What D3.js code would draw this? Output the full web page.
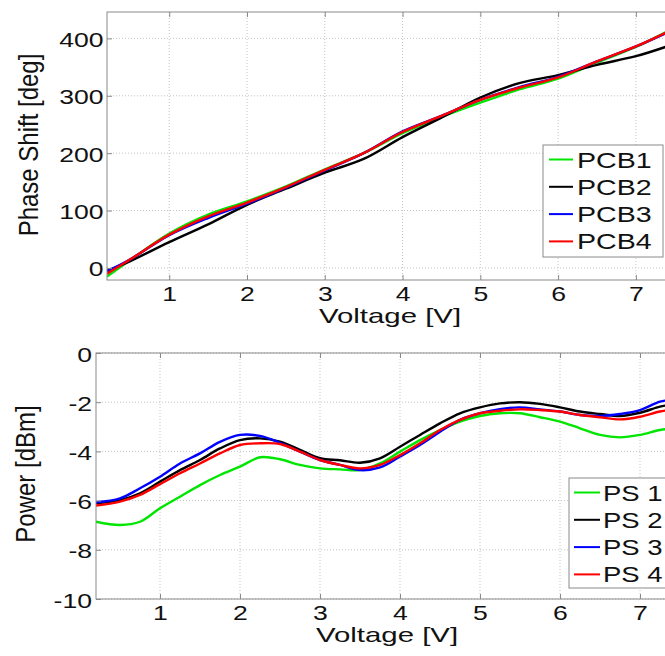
<!DOCTYPE html>
<html>
<head>
<meta charset="utf-8">
<script src="https://cdn.jsdelivr.net/npm/d3@7"></script>
<style>
  body { margin: 0; background: #fff; }
  svg { display: block; }
  text { font-family: "Liberation Sans", Arial, sans-serif; fill: #111; }
</style>
</head>
<body>
<div id="chart"></div>
<script>
// ---- data: phase shift (top) ----
const voltsPhase = [0.2, 0.5, 1, 1.5, 2, 2.5, 3, 3.5, 4, 4.5, 5, 5.5, 6, 6.5, 7, 7.4];
const pcb1 = [-15, 14, 60, 93, 116, 142, 172, 200, 235, 263, 288, 311, 330, 358, 385, 412];
const pcb2 = [-5, 12, 45, 76, 110, 138, 166, 190, 228, 262, 297, 322, 336, 354, 369, 386];
const pcb3 = [-6, 15, 57, 87, 112, 140, 170, 200, 238, 265, 293, 315, 333, 360, 386, 410];
const pcb4 = [-10, 15, 58, 90, 114, 141, 171, 200, 237, 265, 293, 314, 332, 360, 386, 411];
const phaseNames = ["PCB1", "PCB2", "PCB3", "PCB4"];

// ---- data: power (bottom) ----
const voltsPower = [0.2, 0.5, 0.75, 1, 1.25, 1.5, 1.75, 2, 2.25, 2.5, 2.75, 3, 3.25, 3.5, 3.75,
                    4, 4.25, 4.5, 4.75, 5, 5.25, 5.5, 5.75, 6, 6.25, 6.5, 6.75, 7, 7.25, 7.4];
const ps1 = [-6.86, -6.99, -6.86, -6.31, -5.84, -5.37, -4.96, -4.62, -4.24, -4.32, -4.55, -4.69, -4.73, -4.76, -4.49,
             -4.01, -3.54, -3.13, -2.79, -2.56, -2.45, -2.45, -2.61, -2.79, -3.06, -3.33, -3.43, -3.33, -3.13, -3.08];
const ps2 = [-6.11, -5.98, -5.70, -5.23, -4.76, -4.35, -3.88, -3.54, -3.47, -3.60, -3.94, -4.28, -4.36, -4.46, -4.28,
             -3.81, -3.33, -2.86, -2.45, -2.21, -2.05, -2.00, -2.07, -2.21, -2.38, -2.48, -2.56, -2.43, -2.18, -2.10];
const ps3 = [-6.07, -5.91, -5.50, -5.03, -4.49, -4.08, -3.61, -3.33, -3.37, -3.65, -4.01, -4.35, -4.55, -4.76, -4.65,
             -4.21, -3.74, -3.20, -2.72, -2.45, -2.28, -2.21, -2.29, -2.38, -2.52, -2.56, -2.48, -2.32, -1.98, -1.90];
const ps4 = [-6.20, -6.04, -5.77, -5.33, -4.89, -4.49, -4.08, -3.74, -3.67, -3.70, -4.01, -4.35, -4.55, -4.69, -4.55,
             -4.15, -3.67, -3.13, -2.72, -2.45, -2.35, -2.29, -2.32, -2.38, -2.52, -2.61, -2.70, -2.59, -2.38, -2.30];
const powerNames = ["PS 1", "PS 2", "PS 3", "PS 4"];

const xTicks = [1, 2, 3, 4, 5, 6, 7];
const phaseTicks = [0, 100, 200, 300, 400];
const powerTicks = [0, -2, -4, -6, -8, -10];

const colors = ["#00e600", "#000000", "#0000ff", "#ff0000"];

const width = 665, height = 656;
const sx = 1.33; // glyphs in the picture are stretched horizontally

const svg = d3.select("#chart").append("svg")
    .attr("width", width)
    .attr("height", height);

function stretchedText(g, x, y, str, size, scale, anchor, rotate) {
    return g.append("text")
        .attr("transform", `translate(${x},${y}) scale(${scale},1)` + (rotate ? ` rotate(${rotate})` : ""))
        .attr("text-anchor", anchor)
        .attr("font-size", size)
        .text(str);
}

function panel(o) {
    const x = d3.scaleLinear().domain([0.2, 7.4]).range([o.left, o.right]);
    const y = d3.scaleLinear().domain(o.yDomain).range([o.bottom, o.top]);
    const g = svg.append("g");

    g.append("clipPath").attr("id", o.id)
        .append("rect")
        .attr("x", o.left).attr("y", o.top)
        .attr("width", o.right - o.left).attr("height", o.bottom - o.top);

    // grid
    g.append("g").selectAll("line").data(xTicks).join("line")
        .attr("x1", d => x(d)).attr("x2", d => x(d))
        .attr("y1", o.top).attr("y2", o.bottom)
        .attr("stroke", "#c4c4c4").attr("stroke-dasharray", "1,2");
    g.append("g").selectAll("line").data(o.yTicks).join("line")
        .attr("x1", o.left).attr("x2", o.right)
        .attr("y1", d => y(d)).attr("y2", d => y(d))
        .attr("stroke", "#c4c4c4").attr("stroke-dasharray", "1,2");

    // curves
    const line = d3.line()
        .x(d => x(d[0]))
        .y(d => y(d[1]))
        .curve(d3.curveCatmullRom);
    const lines = g.append("g").attr("clip-path", `url(#${o.id})`);
    o.series.forEach((s, i) => {
        lines.append("path")
            .attr("d", line(d3.zip(o.volts, s)))
            .attr("fill", "none")
            .attr("stroke", colors[i])
            .attr("stroke-width", 2.4);
    });

    // axes
    const fmt = d => String(d); // plain hyphen minus, like the original
    const ax = g.append("g").attr("transform", `translate(0,${o.bottom})`)
        .call(d3.axisBottom(x).tickValues(xTicks).tickFormat(fmt).tickSizeInner(-5).tickSizeOuter(0).tickPadding(0));
    ax.selectAll("text")
        .attr("y", 21).attr("dy", 0)
        .attr("font-size", 20)
        .attr("transform", `scale(${sx},1)`);
    g.append("g").attr("transform", `translate(0,${o.top})`)
        .call(d3.axisTop(x).tickValues(xTicks).tickSizeInner(-5).tickSizeOuter(0).tickFormat(""));
    const ay = g.append("g").attr("transform", `translate(${o.left},0)`)
        .call(d3.axisLeft(y).tickValues(o.yTicks).tickFormat(fmt).tickSizeInner(-5).tickSizeOuter(0).tickPadding(o.tickPad));
    ay.selectAll("text")
        .attr("dy", "0.4em")
        .attr("font-size", 20)
        .attr("transform", `scale(${sx},1)`);
    g.selectAll(".domain").remove();
    g.selectAll(".tick line").attr("stroke", "#8a8a8a");
    g.selectAll(".tick text").attr("fill", "#111").attr("font-family", "Liberation Sans, Arial, sans-serif");

    g.append("rect")
        .attr("x", o.left).attr("y", o.top)
        .attr("width", o.right - o.left).attr("height", o.bottom - o.top)
        .attr("fill", "none").attr("stroke", "#8a8a8a").attr("stroke-width", 1);

    // labels
    stretchedText(g, (o.left + o.right) / 2 + 3, o.bottom + 43, "Voltage [V]", 21, 1.4, "middle");
    stretchedText(g, o.yLabelX, o.yLabelY, o.yLabel, 24, 1.12, "middle", -90);

    // legend
    const lg = g.append("g");
    lg.append("rect")
        .attr("x", o.legend.x).attr("y", o.legend.y)
        .attr("width", o.legend.w).attr("height", o.legend.h)
        .attr("fill", "#fff").attr("stroke", "#8a8a8a");
    o.names.forEach((n, i) => {
        const cy = o.legend.y + 14.5 + i * 27.3;
        lg.append("line")
            .attr("x1", o.legend.x + o.legend.l0).attr("x2", o.legend.x + o.legend.l1)
            .attr("y1", cy).attr("y2", cy)
            .attr("stroke", colors[i]).attr("stroke-width", 2);
        stretchedText(lg, o.legend.x + o.legend.t0, cy + 8, n, 22, o.legend.ts, "start");
    });
}

panel({
    id: "clipTop", left: 107, right: 667, top: 12, bottom: 280,
    yDomain: [-21, 446], yTicks: phaseTicks, tickPad: 2.6,
    volts: voltsPhase, series: [pcb1, pcb2, pcb3, pcb4], names: phaseNames,
    yLabel: "Phase Shift [deg]", yLabelX: 38, yLabelY: 145,
    legend: { x: 543, y: 145, w: 120, h: 112, l0: 6, l1: 30, t0: 34, ts: 1.3 }
});

panel({
    id: "clipBottom", left: 96, right: 672, top: 353, bottom: 599,
    yDomain: [-10, 0], yTicks: powerTicks, tickPad: 3,
    volts: voltsPower, series: [ps1, ps2, ps3, ps4], names: powerNames,
    yLabel: "Power [dBm]", yLabelX: 35, yLabelY: 474,
    legend: { x: 569, y: 478, w: 100, h: 110, l0: 5, l1: 31, t0: 34, ts: 1.25 }
});
</script>
</body>
</html>
